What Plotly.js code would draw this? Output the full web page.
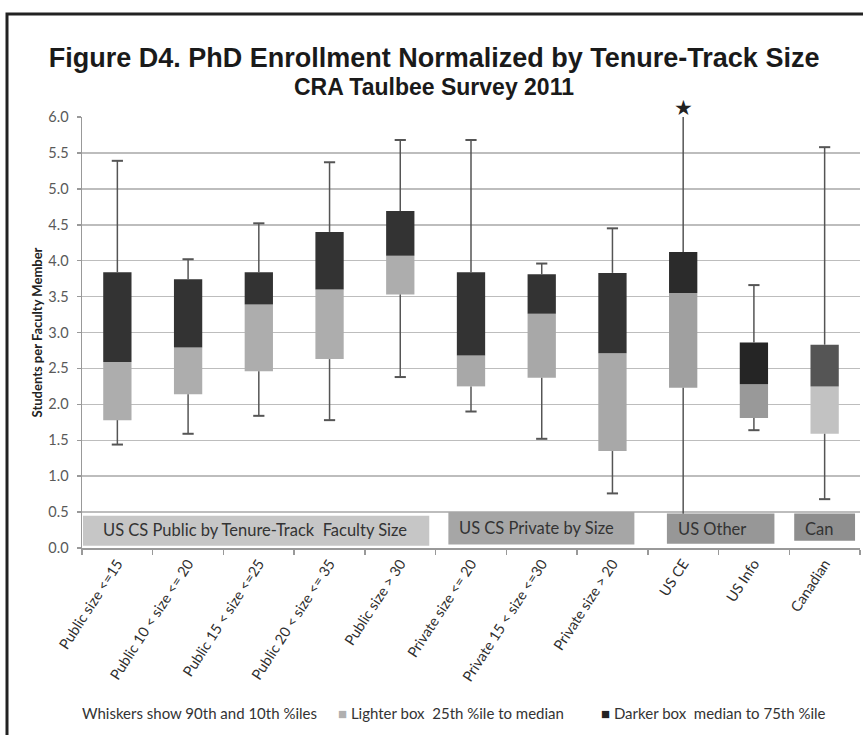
<!DOCTYPE html>
<html>
<head>
<meta charset="utf-8">
<script src="https://cdn.plot.ly/plotly-3.0.1.min.js"></script>
<style>
  html, body { margin: 0; padding: 0; background: #fff; }
  #chart { width: 863px; height: 735px; }
</style>
</head>
<body>
<div id="chart"></div>
<script>
// ---- data ----
var categories = ["Public size <=15", "Public 10 < size <= 20", "Public 15 < size <=25",
  "Public 20 < size <= 35", "Public size > 30", "Private size <= 20",
  "Private 15 < size <=30", "Private size > 20", "US CE", "US Info", "Canadian"];
var p10    = [1.44, 1.59, 1.84, 1.78, 2.38, 1.90, 1.52, 0.76, 0.40, 1.64, 0.68];
var q1     = [1.78, 2.14, 2.46, 2.63, 3.53, 2.25, 2.37, 1.35, 2.23, 1.81, 1.59];
var median = [2.59, 2.79, 3.39, 3.60, 4.07, 2.68, 3.26, 2.71, 3.55, 2.28, 2.25];
var q3     = [3.84, 3.74, 3.84, 4.40, 4.69, 3.84, 3.81, 3.83, 4.12, 2.86, 2.83];
var p90    = [5.39, 4.02, 4.52, 5.37, 5.68, 5.68, 3.96, 4.45, 6.00, 3.66, 5.58];
var offScale = ["US CE"];          // 90th percentile above the axis (marked with a star)
var groupLabels = ["US CS Public by Tenure-Track  Faculty Size", "US CS Private by Size", "US Other", "Can"];
var legendTexts = ["Whiskers show 90th and 10th %iles", "Lighter box  25th %ile to median", "Darker box  median to 75th %ile"];
var titleText = "Figure D4. PhD Enrollment Normalized by Tenure-Track Size";
var subtitleText = "CRA Taulbee Survey 2011";
var yTitle = "Students per Faculty Member";

// ---- styles ----
var lightColors = ["#adadad","#adadad","#adadad","#adadad","#adadad","#a8a8a8","#a8a8a8","#a8a8a8","#a0a0a0","#999999","#c2c2c2"];
var darkColors  = ["#333333","#333333","#333333","#333333","#333333","#333333","#333333","#333333","#2b2b2b","#252525","#555555"];
var sansFont = "Lato, 'Open Sans', sans-serif";
var titleFont = "'Liberation Sans Narrow', 'Liberation Sans', Arial, sans-serif";

var lowerBar = { type: "bar", x: categories, base: q1,
  y: q1.map(function (v, i) { return median[i] - v; }),
  width: 0.4, marker: { color: lightColors, line: { width: 0 } }, hoverinfo: "skip", showlegend: false };
var upperBar = { type: "bar", x: categories, base: median,
  y: median.map(function (v, i) { return q3[i] - v; }),
  width: 0.4, marker: { color: darkColors, line: { width: 0 } }, hoverinfo: "skip", showlegend: false };

// whisker lines (outside the boxes)
var wx = [], wy = [];
categories.forEach(function (c, i) {
  wx.push(c, c, null, c, c, null);
  wy.push(q3[i], p90[i], null, q1[i], p10[i], null);
});
var whiskers = { type: "scatter", mode: "lines", x: wx, y: wy,
  line: { color: "#555555", width: 1.5 }, hoverinfo: "skip", showlegend: false };

// caps
var cx = [], cy = [];
categories.forEach(function (c, i) {
  if (offScale.indexOf(c) < 0) { cx.push(c, c); cy.push(p90[i], p10[i]); }
});
var caps = { type: "scatter", mode: "markers", x: cx, y: cy,
  marker: { symbol: "line-ew", size: 8, line: { color: "#555555", width: 2 } },
  hoverinfo: "skip", showlegend: false };

var groupBoxes = [
  { x0: -0.486, x1: 4.41, y0: 0.03, y1: 0.45, color: "#c6c6c6", tx: 1.95, ty: 0.25 },
  { x0: 4.68, x1: 7.31, y0: 0.05, y1: 0.50, color: "#a6a6a6", tx: 5.92, ty: 0.28 },
  { x0: 7.77, x1: 9.29, y0: 0.06, y1: 0.48, color: "#979797", tx: 8.41, ty: 0.27 },
  { x0: 9.57, x1: 10.43, y0: 0.10, y1: 0.48, color: "#8e8e8e", tx: 9.92, ty: 0.26 }
];

var shapes = groupBoxes.map(function (g) {
  return { type: "rect", xref: "x", yref: "y", x0: g.x0, x1: g.x1, y0: g.y0, y1: g.y1,
    fillcolor: g.color, line: { width: 0 }, layer: "above" };
});
// figure frame
shapes.push({ type: "rect", xref: "paper", yref: "paper", x0: -0.0964, x1: 1.2, y0: -1.0, y1: 1.239,
  line: { color: "#222222", width: 3 }, fillcolor: "rgba(0,0,0,0)", layer: "above" });

var labelFont = { family: sansFont, size: 16.5, color: "#333333" };
var annotations = groupBoxes.map(function (g, i) {
  return { xref: "x", yref: "y", x: g.tx, y: g.ty, text: groupLabels[i], showarrow: false,
    font: labelFont, xanchor: "center", yanchor: "middle" };
});
// star marking the off-scale 90th percentile (just above the top of the axis)
offScale.forEach(function (c) {
  annotations.push({ xref: "x", yref: "paper", x: c, y: 1.022, text: "★", showarrow: false,
    xanchor: "center", yanchor: "middle", font: { family: "DejaVu Sans", size: 21, color: "#222222" } });
});
var legFont = { family: sansFont, size: 15, color: "#333333" };
annotations.push({ xref: "paper", yref: "paper", x: -0.003, y: -0.383, xanchor: "left", yanchor: "middle",
  text: legendTexts[0], showarrow: false, font: legFont });
annotations.push({ xref: "paper", yref: "paper", x: 0.326, y: -0.383, xanchor: "left", yanchor: "middle",
  text: "<span style='color:#b0b0b0'>■</span> " + legendTexts[1], showarrow: false, font: legFont });
annotations.push({ xref: "paper", yref: "paper", x: 0.664, y: -0.383, xanchor: "left", yanchor: "middle",
  text: "<span style='color:#222222'>■</span> " + legendTexts[2], showarrow: false, font: legFont });
annotations.push({ xref: "paper", yref: "paper", x: 0.453, y: (548 - 87) / 431, xanchor: "center", yanchor: "middle",
  text: "<b>" + subtitleText + "</b>", showarrow: false,
  font: { family: titleFont, size: 23, color: "#1a1a1a" } });

var layout = {
  width: 863, height: 735,
  margin: { l: 82, r: 3, t: 117, b: 187 },
  paper_bgcolor: "#ffffff", plot_bgcolor: "#ffffff",
  barmode: "overlay",
  title: { text: "<b>" + titleText + "</b>", x: 0.503, xref: "container", xanchor: "center",
    y: 1 - 58 / 735, yref: "container", yanchor: "middle",
    font: { family: titleFont, size: 27, color: "#1a1a1a" } },
  xaxis: { type: "category", range: [-0.5, 10.5], tickangle: -57,
    tickson: "boundaries", ticks: "outside", ticklen: 5, tickcolor: "#999999", tickwidth: 1.5,
    showline: true, linecolor: "#999999", linewidth: 1.5, showgrid: false, zeroline: false,
    tickfont: { family: sansFont, size: 14.5, color: "#2e2e2e" } },
  yaxis: { range: [0, 6], dtick: 0.5, tick0: 0, tickformat: ".1f",
    ticks: "outside", ticklen: 4, tickcolor: "#999999", tickwidth: 1.5,
    showline: true, linecolor: "#999999", linewidth: 1.5,
    showgrid: true, gridcolor: "#bdbdbd", gridwidth: 1.5, zeroline: false,
    ticklabelstandoff: 5,
    tickfont: { family: sansFont, size: 14.5, color: "#595959" },
    title: { text: "<b>" + yTitle + "</b>", standoff: 3,
      font: { family: sansFont, size: 13, color: "#222222" } } },
  shapes: shapes,
  annotations: annotations,
  showlegend: false
};

Plotly.newPlot("chart", [lowerBar, upperBar, whiskers, caps], layout, { displayModeBar: false, staticPlot: true });
</script>
</body>
</html>
